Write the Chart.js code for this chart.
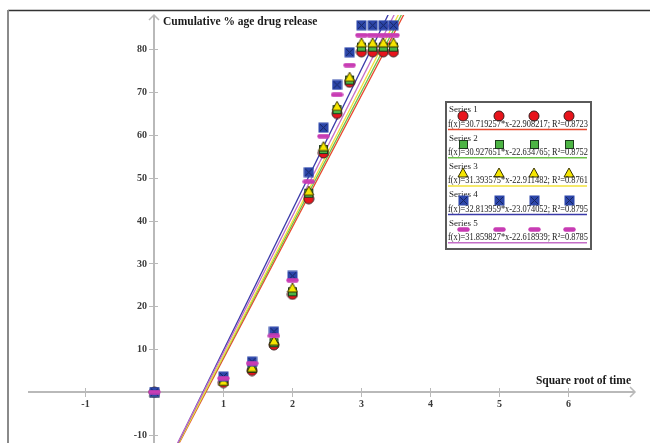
<!DOCTYPE html>
<html>
<head>
<meta charset="utf-8">
<script src="https://cdn.jsdelivr.net/npm/chart.js@4.4.1/dist/chart.umd.min.js"></script>
<style>
    html, body { margin: 0; padding: 0; background: #fff; overflow: hidden; }
    canvas { display: block; }
</style>
</head>
<body>
<canvas id="release-chart" width="650" height="443"></canvas>
<script>
// square root of sampling time (t = 0..12)
const rootTime = [0, 1, 1.414, 1.732, 2, 2.236, 2.449, 2.646, 2.828, 3, 3.162, 3.317, 3.464];

// cumulative % drug release per batch
const series1 = [0, 2.2, 5.0, 11.0, 22.8, 45.1, 55.8, 65.0, 72.3, 79.4, 79.4, 79.4, 79.4];
const series2 = [0, 2.5, 5.5, 11.5, 23.4, 46.4, 56.6, 65.9, 72.8, 80.5, 80.5, 80.5, 80.5];
const series3 = [0, 2.6, 5.8, 12.0, 24.4, 47.0, 57.4, 66.8, 73.6, 81.6, 81.6, 81.6, 81.6];
const series4 = [0, 3.6, 7.1, 14.1, 27.1, 51.3, 61.7, 71.7, 79.3, 85.6, 85.6, 85.6, 85.6];
const series5 = [0, 3.2, 6.7, 13.1, 26.1, 49.1, 59.7, 69.4, 76.3, 83.3, 83.3, 83.3, 83.3];

const seriesNames = ['Series 1', 'Series 2', 'Series 3', 'Series 4', 'Series 5'];

// linear fits f(x) = slope * x + intercept
const slopes = [30.719257, 30.927651, 31.393575, 32.813959, 31.859827];
const intercepts = [-22.908217, -22.634765, -22.911482, -23.074052, -22.618939];
const rSquared = ['0.8723', '0.8752', '0.8761', '0.8795', '0.8785'];

const xTicks = [-1, 1, 2, 3, 4, 5, 6];
const yTicks = [-10, 10, 20, 30, 40, 50, 60, 70, 80];

const xTitle = 'Square root of time';
const yTitle = 'Cumulative % age drug release';

const fitColors = ['#e8482e', '#6cc24a', '#f2e23a', '#3a3aa8', '#c46ec8'];
const serifFont = '"Liberation Serif", "DejaVu Serif", serif';

/**
 * marker images (used for both the points and the legend)
 */
function makeMarker(kind) {
    const c = document.createElement('canvas');
    const g = c.getContext('2d');
    if (kind === 'circle') {
        c.width = 12; c.height = 12;
        g.beginPath();
        g.arc(6, 6, 5, 0, Math.PI * 2);
        g.fillStyle = '#e8141c';
        g.fill();
        g.lineWidth = 1;
        g.strokeStyle = '#3a1a1a';
        g.stroke();
    } else if (kind === 'square') {
        c.width = 11; c.height = 11;
        g.fillStyle = '#4cb444';
        g.fillRect(1, 1, 9, 9);
        g.lineWidth = 1;
        g.strokeStyle = '#1c3c1c';
        g.strokeRect(1.5, 1.5, 8, 8);
    } else if (kind === 'triangle') {
        c.width = 12; c.height = 11;
        g.beginPath();
        g.moveTo(6, 1);
        g.lineTo(11, 10);
        g.lineTo(1, 10);
        g.closePath();
        g.fillStyle = '#f6e600';
        g.fill();
        g.lineWidth = 1;
        g.strokeStyle = '#3a3400';
        g.stroke();
    } else if (kind === 'crossSquare') {
        c.width = 11; c.height = 11;
        g.fillStyle = '#2c46aa';
        g.fillRect(0.5, 0.5, 10, 10);
        g.strokeStyle = '#16245e';
        g.lineWidth = 1;
        g.beginPath();
        g.moveTo(2, 2); g.lineTo(9, 9);
        g.moveTo(9, 2); g.lineTo(2, 9);
        g.stroke();
    } else {
        c.width = 13; c.height = 5;
        g.fillStyle = '#c83cb4';
        g.beginPath();
        g.arc(2.5, 2.5, 2.2, Math.PI / 2, Math.PI * 1.5);
        g.arc(10.5, 2.5, 2.2, Math.PI * 1.5, Math.PI / 2);
        g.closePath();
        g.fill();
    }
    return c;
}

const markers = [
    makeMarker('circle'),
    makeMarker('square'),
    makeMarker('triangle'),
    makeMarker('crossSquare'),
    makeMarker('dash'),
];

function toPoints(values) {
    return values.map((v, i) => ({ x: rootTime[i], y: v }));
}

function fitLine(i) {
    const xs = [-1, 5];
    return xs.map(x => ({ x: x, y: slopes[i] * x + intercepts[i] }));
}

function formulaText(i) {
    return 'f(x)=' + slopes[i] + '*x' + intercepts[i] + '; R\u00b2=' + rSquared[i];
}

/**
 * frame, axes through the origin, ticks and axis titles
 */
const axesPlugin = {
    id: 'originAxes',
    beforeDatasetsDraw(chart) {
        const { ctx, chartArea } = chart;
        const xs = chart.scales.x;
        const ys = chart.scales.y;
        const x0 = Math.round(xs.getPixelForValue(0));
        const y0 = Math.round(ys.getPixelForValue(0));

        ctx.save();

        // outer frame
        ctx.strokeStyle = '#333';
        ctx.lineWidth = 1.5;
        ctx.beginPath();
        ctx.moveTo(8, 10.5);
        ctx.lineTo(650, 10.5);
        ctx.stroke();
        ctx.strokeStyle = '#8a8a8a';
        ctx.lineWidth = 2;
        ctx.beginPath();
        ctx.moveTo(8, 10);
        ctx.lineTo(8, 443);
        ctx.stroke();

        // axis lines
        ctx.strokeStyle = '#b9b9b9';
        ctx.lineWidth = 2;
        ctx.beginPath();
        ctx.moveTo(chartArea.left, y0);
        ctx.lineTo(chartArea.right, y0);
        ctx.moveTo(x0, chartArea.bottom);
        ctx.lineTo(x0, chartArea.top);
        ctx.stroke();

        // arrow heads
        ctx.lineWidth = 1.5;
        ctx.beginPath();
        ctx.moveTo(chartArea.right - 5, y0 - 5);
        ctx.lineTo(chartArea.right, y0);
        ctx.lineTo(chartArea.right - 5, y0 + 5);
        ctx.moveTo(x0 - 5, chartArea.top + 5);
        ctx.lineTo(x0, chartArea.top);
        ctx.lineTo(x0 + 5, chartArea.top + 5);
        ctx.stroke();

        // tick marks
        ctx.lineWidth = 1;
        ctx.beginPath();
        xTicks.forEach(v => {
            const px = Math.round(xs.getPixelForValue(v)) + 0.5;
            ctx.moveTo(px, y0 - 4);
            ctx.lineTo(px, y0 + 5);
        });
        yTicks.forEach(v => {
            const py = Math.round(ys.getPixelForValue(v)) + 0.5;
            ctx.moveTo(x0 - 5, py);
            ctx.lineTo(x0 + 4, py);
        });
        ctx.stroke();

        // tick labels
        ctx.fillStyle = '#3a3a3a';
        ctx.font = 'bold 10px ' + serifFont;
        ctx.textAlign = 'center';
        ctx.textBaseline = 'middle';
        xTicks.forEach(v => {
            ctx.fillText(String(v), xs.getPixelForValue(v), y0 + 12);
        });
        ctx.textAlign = 'right';
        yTicks.forEach(v => {
            ctx.fillText(String(v), x0 - 7, ys.getPixelForValue(v) + 0.5);
        });

        // axis titles
        ctx.fillStyle = '#1a1a1a';
        ctx.font = 'bold 11.5px ' + serifFont;
        ctx.textAlign = 'left';
        ctx.fillText(yTitle, x0 + 9, chartArea.top + 7);
        ctx.textAlign = 'right';
        ctx.fillText(xTitle, chartArea.right - 4, y0 - 11);

        ctx.restore();
    }
};

/**
 * boxed legend with the fit equations
 */
const fitLegendPlugin = {
    id: 'fitLegend',
    afterDraw(chart) {
        const ctx = chart.ctx;
        const left = 446, top = 102, width = 145, height = 147, step = 28.3;
        const markerX = [463, 499, 534, 569];

        ctx.save();
        ctx.fillStyle = '#fff';
        ctx.fillRect(left, top, width, height);
        ctx.strokeStyle = '#5a5a5a';
        ctx.lineWidth = 2;
        ctx.strokeRect(left, top, width, height);

        seriesNames.forEach((name, i) => {
            const y = top + i * step;
            ctx.fillStyle = '#222';
            ctx.textAlign = 'left';
            ctx.textBaseline = 'middle';
            ctx.font = '9px ' + serifFont;
            ctx.fillText(name, left + 3, y + 8);

            const m = markers[i];
            markerX.forEach(mx => {
                ctx.drawImage(m, Math.round(mx - m.width / 2), Math.round(y + 14 - m.height / 2));
            });

            ctx.font = '10px ' + serifFont;
            ctx.fillText(formulaText(i), left + 2, y + 22, 140);

            ctx.strokeStyle = fitColors[i];
            ctx.lineWidth = 1.5;
            ctx.beginPath();
            ctx.moveTo(left + 2, y + 27.5);
            ctx.lineTo(left + 141, y + 27.5);
            ctx.stroke();
        });
        ctx.restore();
    }
};

document.addEventListener('DOMContentLoaded', () => {
    const allSeries = [series1, series2, series3, series4, series5];
    const datasets = [];

    // fitted lines sit underneath the measured points
    allSeries.forEach((values, i) => {
        datasets.push({
            type: 'line',
            label: seriesNames[i] + ' fit',
            data: fitLine(i),
            borderColor: fitColors[i],
            borderWidth: 1.3,
            pointRadius: 0,
            fill: false,
            order: 20 - i,
        });
    });

    // later series are drawn on top of earlier ones
    allSeries.forEach((values, i) => {
        datasets.push({
            type: 'scatter',
            label: seriesNames[i],
            data: toPoints(values),
            pointStyle: markers[i],
            order: 5 - i,
        });
    });

    new Chart(document.getElementById('release-chart'), {
        type: 'scatter',
        data: { datasets: datasets },
        options: {
            responsive: false,
            animation: false,
            layout: {
                autoPadding: false,
                padding: { left: 28, right: 15, top: 15, bottom: 0 },
            },
            plugins: {
                legend: { display: false },
                tooltip: { enabled: false },
            },
            scales: {
                x: { type: 'linear', min: -1.833, max: 6.964, display: false },
                y: { type: 'linear', min: -11.9, max: 88.0, display: false },
            },
        },
        plugins: [axesPlugin, fitLegendPlugin],
    });
});
</script>
</body>
</html>
